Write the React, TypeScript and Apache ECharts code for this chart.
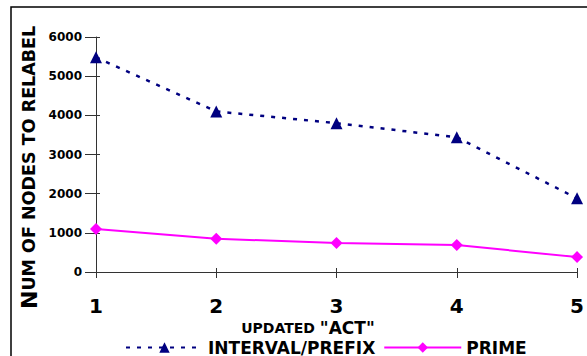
import React, { useEffect, useRef } from "react";
import * as echarts from "echarts";

const categories = ["1", "2", "3", "4", "5"];
const intervalPrefix = [5480, 4100, 3800, 3440, 1880];
const prime = [1100, 850, 740, 690, 380];
const yTicks = [0, 1000, 2000, 3000, 4000, 5000, 6000];

export default function App() {
  const ref = useRef<HTMLDivElement>(null);
  useEffect(() => {
    if (!ref.current) return;
    const chart = echarts.init(ref.current, null, { renderer: "svg" });
    const yMin = yTicks[0];
    const yMax = yTicks[yTicks.length - 1];
    const yInt = yTicks[1] - yTicks[0];
    chart.setOption({
      animation: false,
      backgroundColor: "#fff",
      grid: { left: 96, right: 4, top: 37, bottom: 84, containLabel: false },
      graphic: [
        {
          type: "rect",
          shape: { x: 11, y: 7, width: 620, height: 400 },
          style: { fill: "none", stroke: "#000", lineWidth: 1.5 },
          silent: true,
        },
        {
          type: "text",
          x: 18,
          y: 309,
          rotation: Math.PI / 2,
          style: {
            text: "{a|N}{b|UM OF NODES TO RELABEL}",
            rich: {
              a: { fontSize: 22, fontWeight: "bold", fontFamily: "DejaVu Sans", fill: "#000" },
              b: { fontSize: 17.5, fontWeight: "bold", fontFamily: "DejaVu Sans", fill: "#000" },
            },
            verticalAlign: "top",
            align: "left",
          },
        },
        {
          type: "text",
          x: 308,
          y: 335,
          style: {
            text: '{a|UPDATED }{b|"ACT"}',
            rich: {
              a: { fontSize: 14, lineHeight: 14, fontWeight: "bold", fontFamily: "DejaVu Sans", fill: "#000" },
              b: { fontSize: 17, lineHeight: 15, fontWeight: "bold", fontFamily: "DejaVu Sans", fill: "#000" },
            },
            align: "center",
            verticalAlign: "bottom",
          },
        },
      ],
      legend: {
        left: 120,
        top: 334,
        itemWidth: 77,
        itemHeight: 13,
        itemGap: 8,
        textStyle: { fontSize: 17, lineHeight: 17, fontWeight: "bold", fontFamily: "DejaVu Sans", color: "#000" },
        data: [
          { name: "INTERVAL/PREFIX" },
          { name: "PRIME" },
        ],
      },
      xAxis: [
        {
          type: "category",
          data: categories,
          boundaryGap: false,
          axisLine: { lineStyle: { color: "#333", width: 1 } },
          axisTick: { length: 6, lineStyle: { color: "#333" } },
          axisLabel: {
            margin: 26,
            fontSize: 20,
            lineHeight: 16,
            fontWeight: "bold",
            fontFamily: "DejaVu Sans",
            color: "#000",
          },
        },
        {
          type: "category",
          data: categories,
          position: "bottom",
          boundaryGap: false,
          axisLine: { show: false },
          axisTick: { inside: true, length: 4, lineStyle: { color: "#333" } },
          axisLabel: { show: false },
        },
      ],
      yAxis: [
        {
          type: "value",
          min: yMin,
          max: yMax,
          interval: yInt,
          splitLine: { show: false },
          axisLine: { show: true, lineStyle: { color: "#333", width: 1 } },
          axisTick: { show: true, length: 11, lineStyle: { color: "#333" } },
          axisLabel: {
            margin: 14,
            fontSize: 12,
            fontWeight: "bold",
            fontFamily: "DejaVu Sans",
            color: "#000",
            formatter: (v: number) => String(v),
          },
        },
        {
          type: "value",
          min: yMin,
          max: yMax,
          interval: yInt,
          position: "left",
          splitLine: { show: false },
          axisLine: { show: false },
          axisTick: { show: true, inside: true, length: 4, lineStyle: { color: "#333" } },
          axisLabel: { show: false },
        },
      ],
      series: [
        {
          name: "INTERVAL/PREFIX",
          type: "line",
          data: intervalPrefix,
          symbol: "triangle",
          symbolSize: 12,
          lineStyle: { color: "#000080", width: 2.5, type: [4, 7] },
          itemStyle: { color: "#000080" },
        },
        {
          name: "PRIME",
          type: "line",
          data: prime,
          symbol: "diamond",
          symbolSize: 12,
          lineStyle: { color: "#ff00ff", width: 2 },
          itemStyle: { color: "#ff00ff" },
        },
      ],
    });
    return () => chart.dispose();
  }, []);
  return <div ref={ref} style={{ width: 587, height: 356, position: "absolute", left: 0, top: 0 }} />;
}
